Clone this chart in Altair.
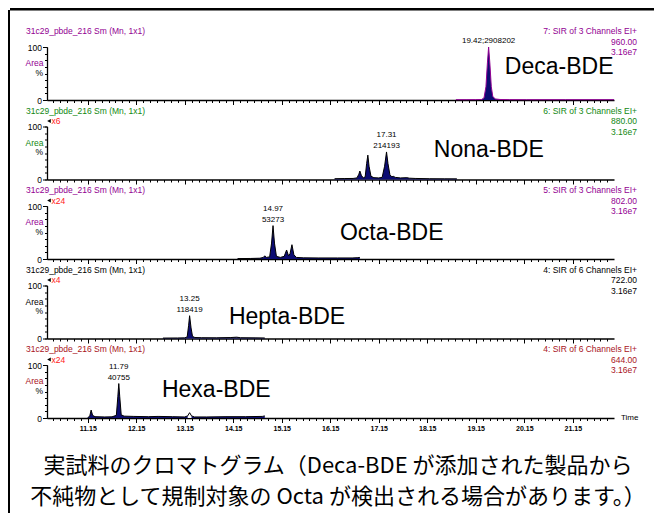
import altair as alt
import pandas as pd

# ---------------- data ----------------
X_MIN, X_MAX = 10.31, 22.0

deca_t = [18.74, 18.95, 19.15, 19.27, 19.32, 19.36, 19.39, 19.415, 19.44, 19.47, 19.50, 19.55, 19.65, 19.85, 20.2, 21.0, 22.0]
deca_v = [0.6, 0.6, 0.7, 1.0, 4, 25, 70, 100, 70, 25, 7, 2, 1.0, 0.7, 0.6, 0.6, 0.6]

nona_t = [16.24, 16.45, 16.62, 16.70, 16.74, 16.76, 16.79, 16.83, 16.87, 16.90, 16.925, 16.95, 16.99, 17.05,
          17.15, 17.22, 17.27, 17.31, 17.34, 17.38, 17.42, 17.45, 17.49, 17.60, 17.73, 17.78, 17.90, 18.20, 18.50, 18.76]
nona_v = [1.5, 1.8, 2, 3, 10, 16, 8, 3, 5, 30, 46, 25, 6, 3.5,
          3, 4, 25, 52, 30, 9, 5, 6, 4, 3, 3.5, 2.5, 2, 1.5, 1.3, 1.2]

octa_t = [14.24, 14.50, 14.70, 14.77, 14.80, 14.83, 14.90, 14.94, 14.97, 15.00, 15.04, 15.12, 15.20, 15.25,
          15.29, 15.32, 15.36, 15.40, 15.45, 15.60, 15.90, 16.30, 16.60, 16.72, 16.76]
octa_v = [0.8, 1, 1.5, 3, 6, 3, 4, 30, 63, 30, 5, 3, 5, 17,
          6, 10, 27, 8, 3, 2.2, 2, 2, 2, 2.5, 3]

hepta_t = [12.70, 13.00, 13.15, 13.20, 13.23, 13.25, 13.28, 13.31, 13.36, 13.50, 13.80, 14.10, 14.22, 14.30, 14.60, 14.80]
hepta_v = [0.8, 1, 1.2, 3, 25, 43, 20, 4, 1.8, 1.5, 1.3, 1.8, 2.5, 1.5, 1.2, 1]

hexa_t = [11.15, 11.19, 11.22, 11.25, 11.30, 11.50, 11.65, 11.74, 11.77, 11.79, 11.81, 11.84, 11.90, 12.10,
          12.40, 12.60, 12.90, 13.15, 13.21, 13.25, 13.29, 13.35, 13.60, 14.00, 14.40, 14.75, 14.80]
hexa_v = [1, 3, 15, 5, 2.5, 2, 2.2, 5, 40, 65, 40, 6, 3.5, 3,
          2.5, 3, 2.5, 2, 4, 10, 4, 2, 2, 2.5, 2.5, 3, 4]
hollow_lo, hollow_hi = 13.16, 13.34   # un-filled bump in the last trace

traces_t = [deca_t, nona_t, octa_t, hepta_t, hexa_t]
traces_v = [deca_v, nona_v, octa_v, hepta_v, hexa_v]

file_titles = ["31c29_pbde_216 Sm (Mn, 1x1)"] * 5
channels = ["7: SIR of 3 Channels EI+", "6: SIR of 3 Channels EI+", "5: SIR of 3 Channels EI+",
            "4: SIR of 6 Channels EI+", "4: SIR of 6 Channels EI+"]
masses = ["960.00", "880.00", "802.00", "722.00", "644.00"]
intensities = ["3.16e7"] * 5
multipliers = ["", "x6", "x24", "x4", "x24"]

compounds = ["Deca-BDE", "Nona-BDE", "Octa-BDE", "Hepta-BDE", "Hexa-BDE"]
compound_t = [19.75, 18.285, 16.35, 14.06, 12.68]
compound_v = [61.5, 55.2, 48.6, 40.0, 52.4]

peak_t = [19.415, 17.31, 14.97, 13.25, 11.79]
peak_v = [100, 52, 63, 43, 65]
peak_labels = ["19.42;2908202", "17.31\n214193", "14.97\n53273", "13.25\n118419", "11.79\n40755"]

x_tick_labels = ["11.15", "12.15", "13.15", "14.15", "15.15", "16.15", "17.15", "18.15", "19.15", "20.15", "21.15"]
y_tick_labels = [0, 100]

caption_lines = ["実試料のクロマトグラム（Deca-BDE が添加された製品から",
                 "不純物として規制対象の Octa が検出される場合があります。）"]

# ---------------- styling ----------------
FONT = "Liberation Sans"
CJK = "Noto Sans CJK JP"
NAVY = "#0c0c72"
RED = "#ff1a1a"
panel_colors = ["#920092", "#118811", "#920092", "#000000", "#a8141c"]
line_colors = ["#920092", "#000000", "#000000", "#000000", "#000000"]
PW, PH = 567, 53
LH = 10.5

major_x = [float(s) for s in x_tick_labels]
minor_x = [round(11.15 + k / 7, 4) for k in range(-6, 80) if X_MIN <= 11.15 + k / 7 <= X_MAX]
minor_y = [k * 12.5 for k in range(9)]

one = pd.DataFrame({"k": [0]})


def txt(text, x, y, color="black", size=8.5, align="left", font=FONT, baseline="middle"):
    return alt.Chart(pd.DataFrame({"text": [text]})).mark_text(
        font=font, fontSize=size, align=align, baseline=baseline, color=color
    ).encode(text="text:N", x=alt.value(x), y=alt.value(y))


def make_panel(i):
    col = panel_colors[i]
    last = i == 4
    xs = alt.Scale(domain=[X_MIN, X_MAX], nice=False, zero=False)
    ys = alt.Scale(domain=[0, 100], nice=False)
    xn = alt.X("t:Q", scale=xs, axis=None)
    yn = alt.Y("v:Q", scale=ys, axis=None)
    df = pd.DataFrame({"t": traces_t[i], "v": traces_v[i]})
    base = alt.Chart(df)

    area = base.mark_area(color=NAVY, opacity=1, interpolate="linear").encode(
        x=alt.X("t:Q", scale=xs, axis=alt.Axis(orient="bottom", values=minor_x, labels=False, tickSize=2.5,
                                               tickColor="black", domainColor="black", domainWidth=1.3,
                                               grid=False, title=None)),
        y=alt.Y("v:Q", scale=ys, axis=alt.Axis(orient="left", values=minor_y, labels=False, tickSize=2.5,
                                               tickColor="black", domainColor="black", domainWidth=1.3,
                                               grid=False, title=None)),
    )
    layers = [area]
    if last:
        layers.append(base.transform_filter(f"datum.t >= {hollow_lo} && datum.t <= {hollow_hi}")
                      .mark_area(color="white", opacity=1, interpolate="linear")
                      .encode(x=xn, y=yn))
    layers.append(base.mark_line(color=line_colors[i], strokeWidth=1, interpolate="linear")
                  .encode(x=xn, y=yn))

    n_lines = peak_labels[i].count("\n") + 1
    pk = pd.DataFrame({"t": [peak_t[i]], "v": [peak_v[i]], "label": [peak_labels[i]]})
    layers.append(alt.Chart(pk).mark_text(font=FONT, fontSize=8, baseline="bottom",
                                          dy=-2 - LH * (n_lines - 1), lineBreak="\n",
                                          lineHeight=LH, color="black").encode(
        x=alt.X("t:Q", scale=xs, axis=alt.Axis(orient="bottom", values=major_x, labels=last, format=".2f",
                                               labelFont=FONT, labelFontSize=7, labelFontWeight="bold",
                                               labelColor="black", labelPadding=2, labelFlush=False,
                                               labelOverlap=False, tickSize=4.5, tickColor="black",
                                               domain=False, grid=False, title=None)),
        y=alt.Y("v:Q", scale=ys, axis=alt.Axis(orient="left", values=y_tick_labels, tickSize=4.5,
                                               tickColor="black", labelFont=FONT, labelFontSize=8.5,
                                               labelColor="black", labelPadding=1, labelFlush=False,
                                               labelOverlap=False, domain=False, grid=False,
                                               title="Area", titleAngle=0, titleAlign="right",
                                               titleBaseline="middle", titleX=-4, titleY=15.5,
                                               titleColor=col, titleFont=FONT, titleFontSize=8.5,
                                               titleFontWeight="normal")),
        text="label:N",
    ))

    cp = pd.DataFrame({"t": [compound_t[i]], "v": [compound_v[i]], "name": [compounds[i]]})
    layers.append(alt.Chart(cp).mark_text(font=FONT, fontSize=23, align="left", baseline="middle",
                                          color="black").encode(x=xn, y=yn, text="name:N"))

    # header texts
    layers.append(txt(file_titles[i], -21, -16, color=col))
    layers.append(txt(channels[i], PW + 23, -16, color=col, align="right"))
    layers.append(txt(masses[i], PW + 23, -5.5, color=col, align="right"))
    layers.append(txt(intensities[i], PW + 23, 5, color=col, align="right"))
    layers.append(txt("%", -4, 25.5, align="right"))
    if multipliers[i]:
        layers.append(alt.Chart(one).mark_point(shape="triangle-left", filled=True, color="black", size=18,
                                                opacity=1).encode(x=alt.value(2), y=alt.value(-5.5)))
        layers.append(txt(multipliers[i], 4.5, -5.5, color=RED))

    if i == 0:
        layers.append(alt.Chart(one).mark_rule(color="black", strokeWidth=2.5).encode(
            x=alt.value(-37), x2=alt.value(607), y=alt.value(-37.75)))
        layers.append(alt.Chart(one).mark_rule(color="black", strokeWidth=2).encode(
            x=alt.value(-38), y=alt.value(-37), y2=alt.value(466)))
    if last:
        layers.append(txt("Time", PW + 7, PH, size=8))
        layers.append(txt(caption_lines[0], 291, 101.25, size=22, align="center", font=CJK))
        layers.append(txt(caption_lines[1], 291, 132.25, size=22, align="center", font=CJK))

    return alt.layer(*layers).resolve_axis(x="independent", y="independent").properties(width=PW, height=PH)


chart = alt.vconcat(*[make_panel(i) for i in range(5)], spacing=26.5, bounds="flush").properties(
    padding=0, background="white"
).configure_view(stroke=None)

chart.save("out.html", embed_options={"renderer": "svg", "actions": False})
